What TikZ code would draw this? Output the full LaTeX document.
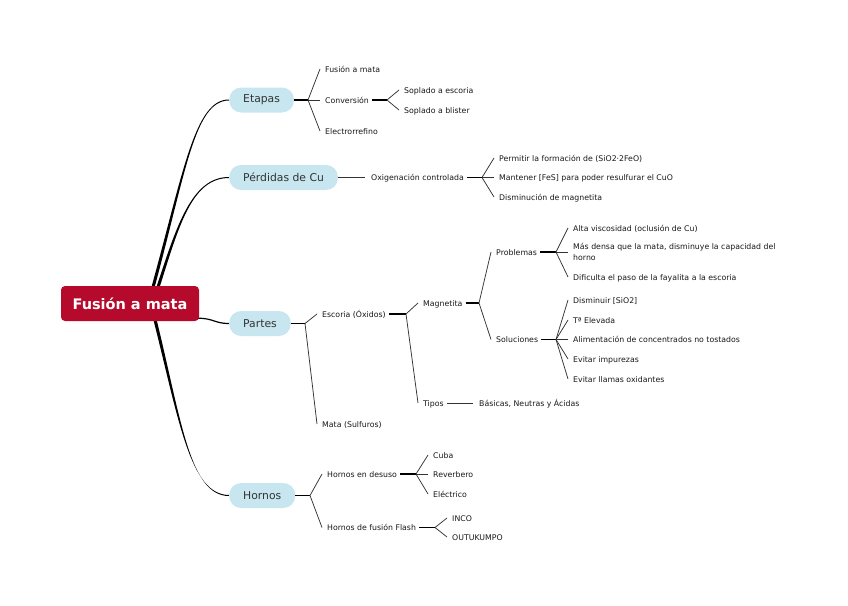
\documentclass[tikz,border=0pt]{standalone}
\usepackage{fontspec}
\setmainfont{DejaVu Sans}
\usetikzlibrary{calc}
\pgfdeclarelayer{bg}
\pgfsetlayers{bg,main}
\definecolor{rootred}{HTML}{B50A2C}
\definecolor{topicblue}{HTML}{C7E6F0}
\tikzset{
  leafbase/.style={anchor=west,inner sep=0pt,font=\fontsize{7.8}{11}\selectfont,text=black!90,align=left},
  leaf/.style={leafbase,text height=7pt,text depth=0.6pt},
  topic/.style={anchor=west,fill=topicblue,rounded corners=12pt,minimum height=25pt,inner xsep=14pt,inner ysep=0pt,font=\fontsize{10.8}{13}\selectfont,text=black!80},
  rootbox/.style={fill=rootred,rounded corners=4pt,minimum height=35pt,minimum width=138pt,inner sep=0pt,font=\fontsize{14.5}{17}\selectfont\bfseries,text=white},
  stub/.style={line width=1.1pt,black},
  twig/.style={line width=0.75pt,black!80},
  thinlink/.style={line width=0.75pt,black!80},
}
% #1 parent, #2 gap after parent, #3 first child, #4 children list
\newcommand{\forkdraw}[4]{%
  \coordinate (#1-f) at ($(#1.east -| #3.west)+(-17,0)$);
  \draw[stub] ($(#1.east)+(#2,0)$) -- (#1-f);
  \foreach \c in {#4} \draw[twig] (#1-f) -- ($(\c.west)+(-5,0)$);
}
% tapered curve: start, control 1, control 2, end
\newcommand{\taper}[4]{%
  \fill[black] ($(#1)+(-1.6,0)$) .. controls ($(#2)+(-1.2,0)$) and ($(#3)+(0,-0.6)$) .. ($(#4)+(0,-0.5)$)
    -- ($(#4)+(0,0.5)$) .. controls ($(#3)+(0,0.6)$) and ($(#2)+(1.2,0)$) .. ($(#1)+(1.6,0)$) -- cycle;
}
\begin{document}
\begin{tikzpicture}[x=1pt,y=-1pt]
\path[use as bounding box] (0,0) rectangle (848,605);

% root
\node[rootbox] (root) at (130,303.5) {Fusión a mata};

% topics
\node[topic] (etapas) at (229,100) {Etapas};
\node[topic] (perdidas) at (229,177.5) {Pérdidas de Cu};
\node[topic] (partes) at (229,323.5) {Partes};
\node[topic] (hornos) at (229,495.5) {Hornos};

% Etapas
\node[leaf] (n1) at (325,69) {Fusión a mata};
\node[leaf] (n2) at (325,100) {Conversión};
\node[leaf] (n3) at (325,131) {Electrorrefino};
\node[leaf] (n21) at (404,90) {Soplado a escoria};
\node[leaf] (n22) at (404,110) {Soplado a blister};

% Perdidas
\node[leaf] (p1) at (371,177.5) {Oxigenación controlada};
\node[leaf] (p11) at (499,158) {Permitir la formación de (SiO2·2FeO)};
\node[leaf] (p12) at (499,177.5) {Mantener [FeS] para poder resulfurar el CuO};
\node[leaf] (p13) at (499,197) {Disminución de magnetita};

% Partes
\node[leaf] (s1) at (322,314) {Escoria (Óxidos)};
\node[leaf] (s2) at (322,424) {Mata (Sulfuros)};
\node[leaf] (s11) at (423,303) {Magnetita};
\node[leaf] (s12) at (423,403) {Tipos};
\node[leaf] (s121) at (479,403) {Básicas, Neutras y Ácidas};
\node[leaf] (s111) at (496,252) {Problemas};
\node[leaf] (s112) at (496,339.5) {Soluciones};
\node[leaf] (pr1) at (573,228) {Alta viscosidad (oclusión de Cu)};
\node[leafbase] (pr2) at (573,252) {Más densa que la mata, disminuye la capacidad del\\horno};
\node[leaf] (pr3) at (573,277) {Dificulta el paso de la fayalita a la escoria};
\node[leaf] (so1) at (573,300) {Disminuir [SiO2]};
\node[leaf] (so2) at (573,320) {Tª Elevada};
\node[leaf] (so3) at (573,339.5) {Alimentación de concentrados no tostados};
\node[leaf] (so4) at (573,359) {Evitar impurezas};
\node[leaf] (so5) at (573,379) {Evitar llamas oxidantes};

% Hornos
\node[leaf] (h1) at (327,474) {Hornos en desuso};
\node[leaf] (h2) at (327,527.5) {Hornos de fusión Flash};
\node[leaf] (h11) at (433,455) {Cuba};
\node[leaf] (h12) at (433,474) {Reverbero};
\node[leaf] (h13) at (433,494) {Eléctrico};
\node[leaf] (h21) at (452,518) {INCO};
\node[leaf] (h22) at (452,537) {OUTUKUMPO};

% connectors
\forkdraw{etapas}{0}{n1}{n1,n2,n3}
\forkdraw{n2}{3}{n21}{n21,n22}
\draw[thinlink] (perdidas.east) -- ($(p1.west)+(-6,0)$);
\forkdraw{p1}{3}{p11}{p11,p12,p13}
\forkdraw{partes}{0}{s1}{s1,s2}
\forkdraw{s1}{3}{s11}{s11,s12}
\draw[thinlink] ($(s12.east)+(3,0)$) -- ($(s121.west)+(-6,0)$);
\forkdraw{s11}{3}{s111}{s111,s112}
\forkdraw{s111}{3}{pr1}{pr1,pr2,pr3}
\forkdraw{s112}{3}{so1}{so1,so2,so3,so4,so5}
\forkdraw{hornos}{0}{h1}{h1,h2}
\forkdraw{h1}{3}{h11}{h11,h12,h13}
\forkdraw{h2}{3}{h21}{h21,h22}

% main curves
\coordinate (ea) at ($(root.north)+(23,1.5)$);
\coordinate (eb) at (185,170);
\coordinate (ec) at (195,100);
\coordinate (pa) at ($(root.north)+(28,1.5)$);
\coordinate (pb) at (178,225);
\coordinate (pc) at (192,177.5);
\coordinate (ha) at ($(root.south)+(25,-1.5)$);
\coordinate (hb) at (180,420);
\coordinate (hc) at (190,495.5);
\begin{pgfonlayer}{bg}
\fill[white] (0,0) rectangle (848,605);
\taper{ea}{eb}{ec}{etapas.west}
\taper{pa}{pb}{pc}{perdidas.west}
\taper{ha}{hb}{hc}{hornos.west}
\draw[line width=1.2pt] ($(root.south east)+(-3,-3)$) .. controls (214,318) and (214,323.5) .. (partes.west);
\end{pgfonlayer}
\end{tikzpicture}
\end{document}
